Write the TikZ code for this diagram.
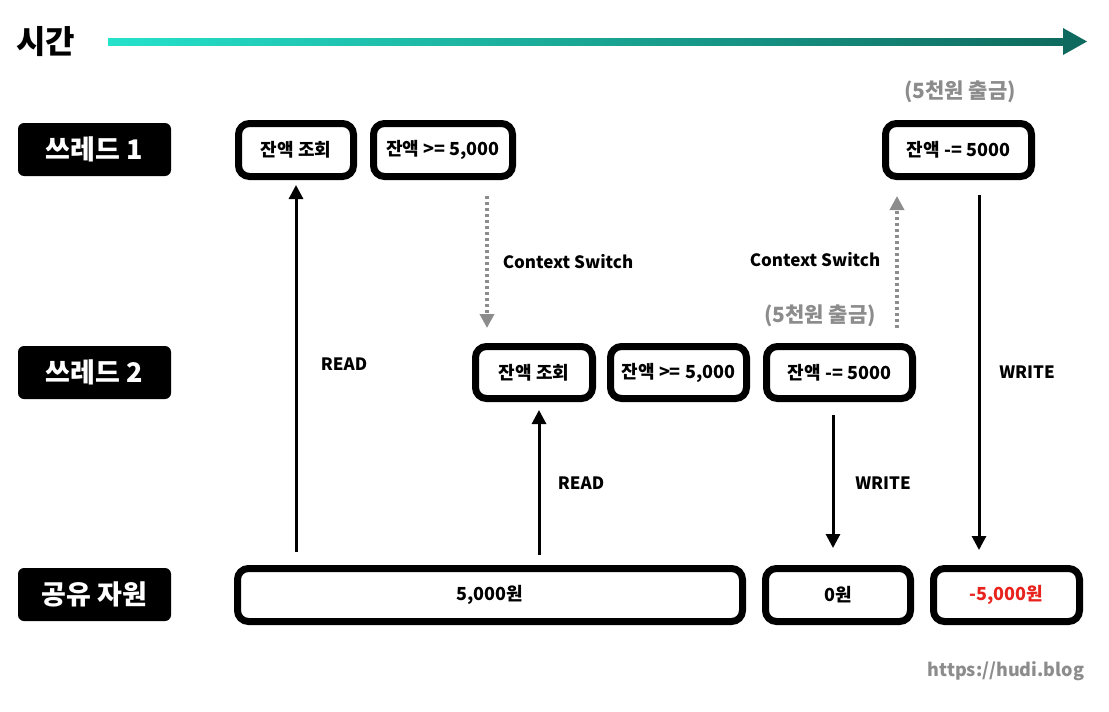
\documentclass[tikz,border=0pt]{standalone}
\usepackage{fontspec}
\setmainfont{Noto Sans CJK KR}
\usetikzlibrary{arrows.meta,calc}
\definecolor{teallight}{HTML}{25E2CB}
\definecolor{tealdark}{HTML}{0E6A5E}
\definecolor{txtgray}{HTML}{8C8C8C}
\definecolor{alertred}{HTML}{E8231E}
\tikzset{
  opbox/.style={draw=black, fill=white, line width=7pt, rounded corners=11pt,
    minimum height=53pt, inner sep=0pt, font=\bfseries\fontsize{18}{21}\selectfont},
  lanebox/.style={fill=black, rounded corners=6pt, minimum width=153pt, minimum height=53pt,
    inner sep=0pt, text=white, font=\bfseries\fontsize{27}{31}\selectfont},
  arr/.style={line width=3pt, -{Triangle[width=14pt,length=14pt]}},
  ctx/.style={draw=txtgray, line width=4pt, dash pattern=on 3pt off 3pt,
    -{Triangle[width=14pt,length=14pt]}},
  lbl/.style={font=\bfseries\fontsize{17}{20}\selectfont, inner sep=0pt},
  note/.style={font=\bfseries\fontsize{21}{24}\selectfont, text=txtgray, inner sep=0pt}
}
\begin{document}
\begin{tikzpicture}[x=1pt,y=-1pt]
\useasboundingbox (0,0) rectangle (1109,712);
% time axis
\node[font=\bfseries\fontsize{32}{36}\selectfont, inner sep=0pt] (time) at (46,42) {시간};
\shade[left color=teallight, right color=tealdark] (108,38) rectangle (1066,45);
\fill[tealdark] (1063,28) -- (1087,41.5) -- (1063,55) -- cycle;
% lane labels
\node[lanebox] (l1) at (94.5,149.5) {쓰레드 1};
\node[lanebox] (l2) at (94.5,372.5) {쓰레드 2};
\node[lanebox] (l3) at (94.5,594.5) {공유 자원};
% thread 1
\node[opbox, minimum width=115pt] (t1a) at (296,150) {잔액 조회};
\node[opbox, minimum width=139pt] (t1b) at (443,150) {잔액 >= 5,000};
\node[opbox, minimum width=146pt] (t1c) at (958.5,150) {잔액 -= 5000};
% thread 2
\node[opbox, minimum width=117pt, minimum height=52pt] (t2a) at (534,372.5) {잔액 조회};
\node[opbox, minimum width=136pt, minimum height=52pt] (t2b) at (678.5,372.5) {잔액 >= 5,000};
\node[opbox, minimum width=146pt, minimum height=52pt] (t2c) at (839.5,372.5) {잔액 -= 5000};
% shared resource
\node[opbox, minimum width=505pt] (s1) at (490,595) {5,000원};
\node[opbox, minimum width=145pt] (s2) at (838,595) {0원};
\node[opbox, minimum width=146pt, text=alertred] (s3) at (1006.5,595) {-5,000원};
% notes
\node[note] (n1) at (960,92) {(5천원 출금)};
\node[note] (n2) at (820,316) {(5천원 출금)};
\node[lbl] (cs1) at (568,262) {Context Switch};
\node[lbl] (cs2) at (815,260) {Context Switch};
\node[lbl] (r1) at (344,364) {READ};
\node[lbl] (r2) at (581,483) {READ};
\node[lbl] (w1) at (883,483) {WRITE};
\node[lbl] (w2) at (1027,372) {WRITE};
\node[font=\bfseries\fontsize{18}{21}\selectfont, text=txtgray, inner sep=0pt] (url) at (1006,671) {https://hudi.blog};
% arrows
\draw[arr] ($(t1a.south |- s1.north)+(0,-13)$) -- ($(t1a.south)+(0,5)$);
\draw[arr] ($(t2a.south |- s1.north)+(5,-10)$) -- ($(t2a.south)+(5,8)$);
\draw[ctx] ($(t1b.south)+(44,16)$) -- ($(t1b.south |- t2a.north)+(44,-15)$);
\draw[ctx] ($(t1c.west |- t2c.north)+(15,-15)$) -- ($(t1c.south -| t1c.west)+(15,16)$);
\draw[arr] ($(t2c.south)+(-6.5,13)$) -- ($(t2c.south |- s2.north)+(-6.5,-17)$);
\draw[arr] ($(t1c.south)+(20.5,15)$) -- ($(t1c.south |- s3.north)+(20.5,-15)$);
\end{tikzpicture}
\end{document}
